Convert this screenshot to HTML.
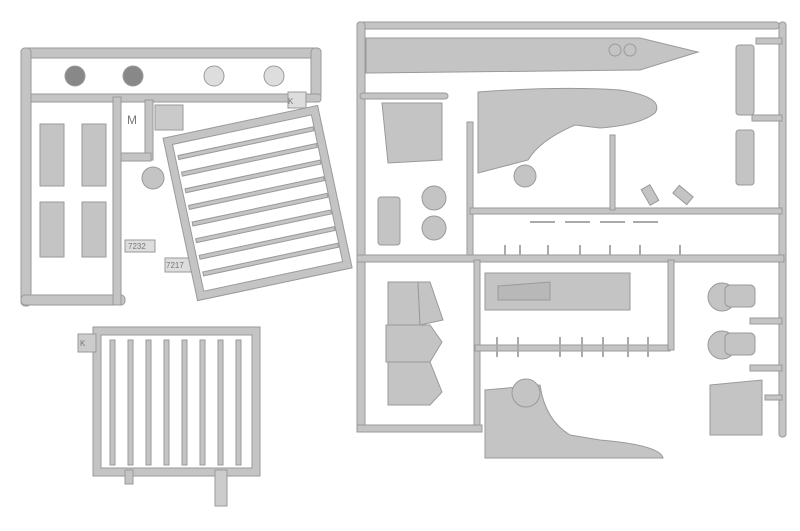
<!DOCTYPE html>
<html><head><style>html,body{margin:0;padding:0;background:#fff}svg{display:block}</style></head><body>
<svg width="800" height="531" viewBox="0 0 800 531" xmlns="http://www.w3.org/2000/svg" font-family="Liberation Sans, sans-serif">
<g fill="#c4c4c4" stroke="#9a9a9a" stroke-width="1">
<!-- LEFT SPRUE -->
<rect x="21" y="48" width="300" height="10" rx="4"/>
<rect x="311" y="48" width="10" height="50" rx="4"/>
<rect x="26" y="94" width="295" height="8" rx="3"/>
<rect x="21" y="48" width="10" height="258" rx="4"/>
<rect x="21" y="295" width="104" height="10" rx="4"/>
<rect x="113" y="97" width="8" height="208"/>
<rect x="145" y="100" width="8" height="60"/>
<rect x="121" y="153" width="30" height="8"/>
<rect x="155" y="105" width="28" height="25" fill="#cacaca"/>
<rect x="40" y="124" width="24" height="62"/><rect x="82" y="124" width="24" height="62"/>
<rect x="40" y="202" width="24" height="55"/><rect x="82" y="202" width="24" height="55"/>
<circle cx="75" cy="76" r="10" fill="#888"/><circle cx="133" cy="76" r="10" fill="#888"/>
<circle cx="214" cy="76" r="10" fill="#ddd"/><circle cx="274" cy="76" r="10" fill="#ddd"/>
<circle cx="153" cy="178" r="11"/>
<rect x="125" y="240" width="30" height="12" fill="#ddd"/>
<rect x="165" y="258" width="26" height="14" fill="#ddd"/>
<rect x="288" y="92" width="18" height="16" fill="#ddd"/>
<!-- rotated grid -->
<g transform="rotate(-12 258 205)">
<rect x="183" y="124" width="150" height="158" fill="none" stroke="#9a9a9a" stroke-width="9"/>
<rect x="183" y="124" width="150" height="158" fill="none" stroke="#c4c4c4" stroke-width="7"/>
<g stroke-width="1"><rect x="190" y="140" width="138" height="4"/><rect x="190" y="157" width="138" height="4"/><rect x="190" y="174" width="138" height="4"/><rect x="190" y="191" width="138" height="4"/><rect x="190" y="208" width="138" height="4"/><rect x="190" y="225" width="138" height="4"/><rect x="190" y="242" width="138" height="4"/><rect x="190" y="259" width="138" height="4"/></g>
</g>
<!-- bottom ladder -->
<rect x="97" y="331" width="159" height="141" fill="none" stroke="#9a9a9a" stroke-width="9"/>
<rect x="97" y="331" width="159" height="141" fill="none" stroke="#c4c4c4" stroke-width="7"/>
<rect x="78" y="334" width="18" height="18" fill="#ccc"/>
<rect x="125" y="470" width="8" height="14"/><rect x="215" y="470" width="12" height="36" fill="#ccc"/>
<g><rect x="110" y="340" width="5" height="125"/><rect x="128" y="340" width="5" height="125"/><rect x="146" y="340" width="5" height="125"/><rect x="164" y="340" width="5" height="125"/><rect x="182" y="340" width="5" height="125"/><rect x="200" y="340" width="5" height="125"/><rect x="218" y="340" width="5" height="125"/><rect x="236" y="340" width="5" height="125"/></g>

<!-- RIGHT SPRUE -->
<rect x="357" y="22" width="422" height="7" rx="3"/>
<rect x="357" y="22" width="8" height="410" rx="3"/>
<rect x="779" y="22" width="7" height="415" rx="3"/>
<rect x="360" y="93" width="88" height="6" rx="3"/>
<rect x="467" y="122" width="6" height="136"/>
<rect x="470" y="208" width="312" height="6"/>
<rect x="357" y="255" width="427" height="7"/>
<rect x="474" y="260" width="6" height="172"/>
<rect x="357" y="425" width="125" height="7"/>
<rect x="475" y="345" width="195" height="6"/>
<rect x="668" y="260" width="6" height="90"/>
<rect x="610" y="135" width="5" height="75"/>
<rect x="756" y="38" width="26" height="6"/><rect x="752" y="115" width="30" height="6"/>
<rect x="750" y="318" width="32" height="6"/><rect x="750" y="365" width="32" height="6"/>
<rect x="765" y="395" width="17" height="5"/>
<!-- fuselage top -->
<path d="M366 38 L640 38 L698 52 L640 70 L366 73 Z"/>
<circle cx="615" cy="50" r="6"/><circle cx="630" cy="50" r="6"/>
<!-- front fuselage/canopy -->
<path d="M478 92 Q560 86 620 90 Q665 97 655 113 Q640 125 600 128 L575 125 Q540 140 528 160 L478 173 Z"/>
<circle cx="525" cy="176" r="11"/>
<!-- seat -->
<path d="M382 103 L442 103 L442 160 L388 163 Z"/>
<circle cx="434" cy="198" r="12"/><circle cx="434" cy="228" r="12"/>
<rect x="378" y="197" width="22" height="48" rx="3"/>
<!-- belts -->
<rect x="736" y="45" width="18" height="70" rx="3"/>
<rect x="736" y="130" width="18" height="55" rx="3"/>
<!-- tail -->
<path d="M388 282 L418 282 L420 325 L388 325 Z"/>
<path d="M418 282 L430 282 L443 320 L420 325 Z"/>
<path d="M386 325 L430 325 L442 342 L430 362 L386 362 Z"/>
<path d="M388 362 L430 362 L442 392 L430 405 L388 405 Z"/>
<!-- rect part -->
<rect x="485" y="273" width="145" height="37"/>
<path d="M498 286 L550 282 L550 300 L498 300 Z" fill="#b8b8b8"/>
<!-- bottom fuselage -->
<path d="M485 390 L540 385 Q545 420 570 435 L600 440 Q660 445 663 458 L485 458 Z"/>
<circle cx="526" cy="393" r="14"/>
<!-- box -->
<path d="M710 385 L762 380 L762 435 L710 435 Z"/>
<!-- pilots -->
<ellipse cx="722" cy="297" rx="14" ry="14"/><rect x="725" y="285" width="30" height="22" rx="5"/>
<ellipse cx="722" cy="345" rx="14" ry="14"/><rect x="725" y="333" width="30" height="22" rx="5"/>
<!-- small parts -->
<rect x="645" y="186" width="10" height="18" transform="rotate(-30 650 195)"/>
<rect x="678" y="186" width="10" height="18" transform="rotate(-50 683 195)"/>
</g>
<g fill="none" stroke="#aaa" stroke-width="2">
<path d="M530 222 h25 M565 222 h25 M600 222 h25 M633 222 h25"/>
<path d="M505 245 v10 M520 245 v10 M548 245 v10 M580 245 v10 M610 245 v10 M640 245 v10 M680 245 v10"/>
<path d="M497 337 v20 M518 337 v20 M560 337 v20 M582 337 v20 M603 337 v20 M628 337 v20 M648 337 v20"/>
</g>
<g font-size="8" fill="#777">
<text x="288" y="104">K</text><text x="127" y="124" font-size="12">M</text>
<text x="128" y="249">7232</text><text x="166" y="268">7217</text>
<text x="80" y="346">K</text>
</g>
</svg>
</body></html>
